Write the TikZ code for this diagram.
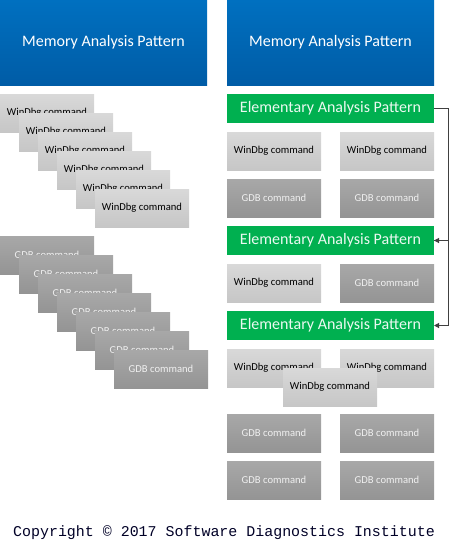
\documentclass[tikz,border=0pt]{standalone}
\usepackage{fontspec}
\setsansfont{Carlito}
\setmonofont{Liberation Mono}
\usetikzlibrary{arrows.meta}
\definecolor{mapblue}{RGB}{0,112,192}
\definecolor{mapbluedark}{RGB}{0,92,166}
\definecolor{eapgreen}{RGB}{0,176,80}
\definecolor{cmdlight}{RGB}{217,217,217}
\definecolor{cmdlightdark}{RGB}{198,198,198}
\definecolor{cmddark}{RGB}{168,168,168}
\definecolor{cmddarkdark}{RGB}{148,148,148}
\definecolor{linkgray}{RGB}{64,64,64}
\tikzset{
  >={Triangle[length=5pt,width=5pt]},
  cell/.style={inner sep=0pt,outer sep=0pt,anchor=north west,align=center},
  map/.style={cell,top color=mapblue,bottom color=mapbluedark,text=white,
    minimum width=207pt,minimum height=85pt,font=\sffamily\fontsize{16}{19}\selectfont},
  eap/.style={cell,fill=eapgreen,text=white!92!eapgreen,
    minimum width=207pt,minimum height=29pt,font=\sffamily\fontsize{16}{19}\selectfont},
  windbg/.style={cell,top color=cmdlight,bottom color=cmdlightdark,text=black,
    minimum width=94pt,minimum height=38pt,font=\sffamily\fontsize{10.6}{13}\selectfont},
  gdb/.style={cell,top color=cmddark,bottom color=cmddarkdark,text=white!94!black,
    minimum width=94pt,minimum height=38pt,font=\sffamily\fontsize{10.6}{13}\selectfont},
  link/.style={->,draw=linkgray,line width=1pt},
  note/.style={font=\ttfamily\fontsize{14.95}{17}\selectfont,text=black!85!blue},
}
\begin{document}
\begin{tikzpicture}[x=1pt,y=-1pt]
  \useasboundingbox (0,0) rectangle (450,550);
  % headers
  \node[map] (mapl) at (0,0) {Memory Analysis Pattern};
  \node[map] (mapr) at (227,0) {Memory Analysis Pattern};
  % left: stacked commands
  \foreach \i in {0,...,5}{
    \node[windbg] (lw\i) at (19*\i,94+19*\i) {WinDbg command};
  }
  \foreach \i in {0,...,6}{
    \node[gdb] (lg\i) at (19*\i,236+19*\i) {GDB command};
  }
  % right: elementary patterns
  \node[eap] (eap1) at (227,94) {Elementary Analysis Pattern};
  \node[windbg] (wa1) at (227,132) {WinDbg command};
  \node[windbg] (wb1) at (340,132) {WinDbg command};
  \node[gdb] (ga1) at (227,179) {GDB command};
  \node[gdb] (gb1) at (340,179) {GDB command};
  \node[eap] (eap2) at (227,226) {Elementary Analysis Pattern};
  \node[windbg] (wa2) at (227,264) {WinDbg command};
  \node[gdb] (gb2) at (340,264) {GDB command};
  \node[eap] (eap3) at (227,311) {Elementary Analysis Pattern};
  \node[windbg] (wa3) at (227,349) {WinDbg command};
  \node[windbg] (wb3) at (340,349) {WinDbg command};
  \node[windbg] (wc3) at (283,368) {WinDbg command};
  \node[gdb] (ga3) at (227,414) {GDB command};
  \node[gdb] (gb3) at (340,414) {GDB command};
  \node[gdb] (ga4) at (227,461) {GDB command};
  \node[gdb] (gb4) at (340,461) {GDB command};
  % sequence
  \draw[link] (eap1.east) -- ++(14,0) |- (eap2.east);
  \draw[link] (eap2.east) -- ++(14,0) |- (eap3.east);
  \node[note] (copy) at (224,533) {Copyright © 2017 Software Diagnostics Institute};
\end{tikzpicture}
\end{document}
